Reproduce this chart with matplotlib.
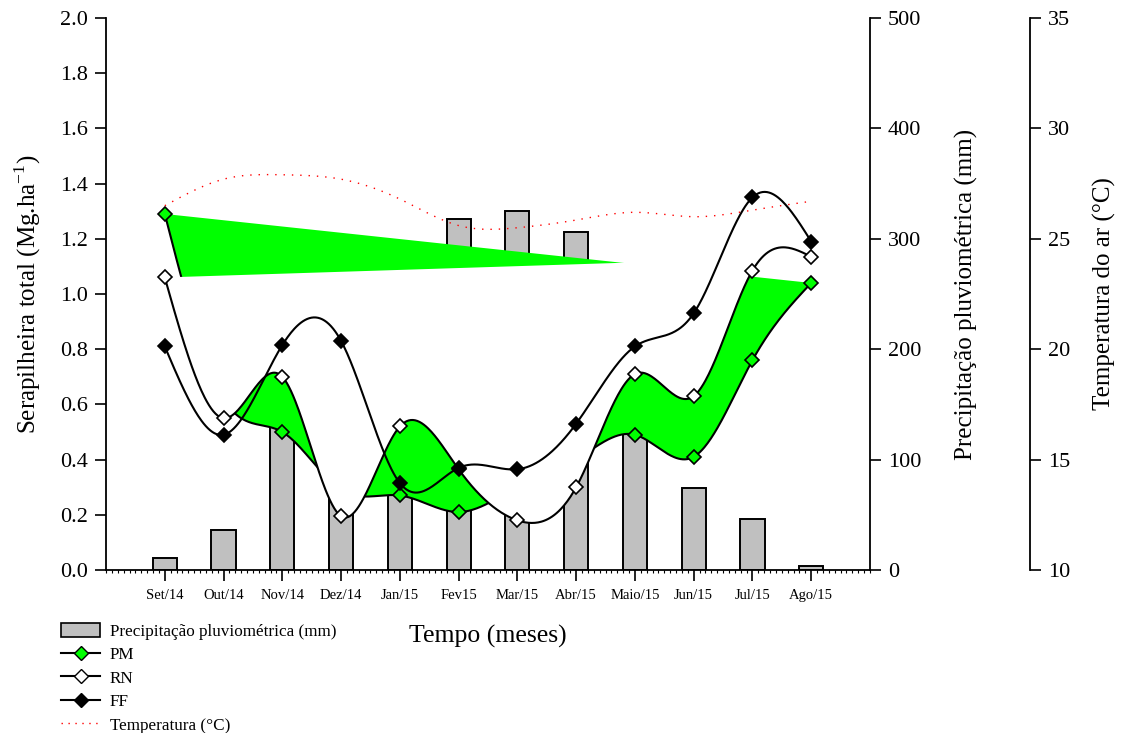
import numpy as np
import matplotlib
matplotlib.use("Agg")
import matplotlib.pyplot as plt
from matplotlib.patches import Patch
from matplotlib.lines import Line2D
from matplotlib.ticker import MultipleLocator, FormatStrFormatter

plt.rcParams['font.family'] = ['Liberation Serif', 'DejaVu Serif']
plt.rcParams['mathtext.fontset'] = 'custom'
plt.rcParams['mathtext.rm'] = 'Liberation Serif'

# ---- data -------------------------------------------------------------
months = ['Set/14', 'Out/14', 'Nov/14', 'Dez/14', 'Jan/15', 'Fev15',
          'Mar/15', 'Abr/15', 'Maio/15', 'Jun/15', 'Jul/15', 'Ago/15']
precip = [11, 36, 190, 200, 240, 318, 325, 306, 180, 74, 46, 4]          # mm
pm = [1.29, 0.62, 0.50, 0.29, 0.27, 0.21, 0.30, 0.40, 0.49, 0.41, 0.76, 1.04]
rn = [1.06, 0.55, 0.70, 0.195, 0.52, 0.365, 0.18, 0.30, 0.71, 0.63, 1.085, 1.135]
ff = [0.81, 0.49, 0.815, 0.83, 0.315, 0.37, 0.365, 0.53, 0.81, 0.93, 1.35, 1.19]
temp = [26.5, 27.7, 27.9, 27.7, 26.8, 25.6, 25.5, 25.85, 26.2, 26.0, 26.3, 26.7]  # deg C


def natural_spline(x, y, xs):
    """Natural cubic spline through (x, y), evaluated at xs."""
    x = np.asarray(x, float)
    y = np.asarray(y, float)
    n = len(x)
    h = np.diff(x)
    A = np.zeros((n, n))
    b = np.zeros(n)
    A[0, 0] = A[-1, -1] = 1.0
    for i in range(1, n - 1):
        A[i, i - 1] = h[i - 1]
        A[i, i] = 2 * (h[i - 1] + h[i])
        A[i, i + 1] = h[i]
        b[i] = 6 * ((y[i + 1] - y[i]) / h[i] - (y[i] - y[i - 1]) / h[i - 1])
    M = np.linalg.solve(A, b)
    idx = np.clip(np.searchsorted(x, xs) - 1, 0, n - 2)
    x0, x1 = x[idx], x[idx + 1]
    hh = x1 - x0
    t0, t1 = x1 - xs, xs - x0
    return (M[idx] * t0 ** 3 / (6 * hh) + M[idx + 1] * t1 ** 3 / (6 * hh)
            + (y[idx] / hh - M[idx] * hh / 6) * t0
            + (y[idx + 1] / hh - M[idx + 1] * hh / 6) * t1)


x = np.arange(len(months))
xs = np.linspace(0, len(months) - 1, 600)
pm_s = natural_spline(x, pm, xs)
rn_s = natural_spline(x, rn, xs)
ff_s = natural_spline(x, ff, xs)
temp_s = natural_spline(x, temp, xs)

GREEN = '#00ff00'
BAR = '#c0c0c0'

fig = plt.figure(figsize=(11.22, 7.33), dpi=100)
L, R, B, T = 106 / 1122, 870 / 1122, 1 - 570 / 733, 1 - 18 / 733
ax_p = fig.add_axes([L, B, R - L, T - B])
ax_s = ax_p.twinx()
ax_t = ax_p.twinx()

# ---- precipitation bars (base axes) ----------------------------------
ax_p.bar(x, precip, width=0.41, color=BAR, edgecolor='black', linewidth=1.4, zorder=1)
ax_p.set_ylim(0, 500)
ax_p.set_xlim(-1, 12)
ax_p.yaxis.tick_right()
ax_p.yaxis.set_label_position('right')
ax_p.set_yticks(np.arange(0, 501, 100))
ax_p.set_ylabel('Precipitação pluviométrica (mm)', fontsize=18, labelpad=24)
for s in ('left', 'top'):
    ax_p.spines[s].set_visible(False)
ax_p.spines['right'].set_linewidth(1.3)
ax_p.spines['bottom'].set_linewidth(1.3)
ax_p.set_xticks(x)
ax_p.set_xticklabels(months, fontsize=10.5)
ax_p.xaxis.set_minor_locator(MultipleLocator(0.1))
ax_p.tick_params(axis='x', which='major', direction='out', length=8, width=1.2, pad=6)
ax_p.tick_params(axis='x', which='minor', direction='out', length=2, width=0.8)
ax_p.tick_params(axis='y', direction='out', length=8, width=1.2, labelsize=16, pad=5)
ax_p.set_xlabel('Tempo (meses)', fontsize=18.5, labelpad=16)

# ---- litterfall series ------------------------------------------------
ax_s.set_ylim(0, 2.0)
ax_s.yaxis.tick_left()
ax_s.yaxis.set_label_position('left')
ax_s.set_yticks(np.arange(0, 2.01, 0.2))
ax_s.yaxis.set_major_formatter(FormatStrFormatter('%.1f'))
ax_s.tick_params(axis='y', direction='out', length=8, width=1.2, labelsize=16, pad=5)
ax_s.set_ylabel('Serapilheira total (Mg.ha$^{-1}$)', fontsize=18, labelpad=12)
for s in ('right', 'top', 'bottom'):
    ax_s.spines[s].set_visible(False)
ax_s.spines['left'].set_linewidth(1.3)

# PM area (curve closed by its chord), then RN area in white on top
ax_s.fill(xs, pm_s, color=GREEN, lw=0, zorder=2)
ax_s.plot(xs, pm_s, color='black', lw=1.5, zorder=3)
ax_s.plot(x, pm, ls='none', marker='D', ms=7, mfc=GREEN, mec='black', mew=1.2, zorder=4)
ax_s.fill(xs, rn_s, color='white', lw=0, zorder=5)
ax_s.plot(xs, rn_s, color='black', lw=1.5, zorder=6)
ax_s.plot(x, rn, ls='none', marker='D', ms=7, mfc='white', mec='black', mew=1.2, zorder=7)
ax_s.plot(xs, ff_s, color='black', lw=1.5, zorder=8)
ax_s.plot(x, ff, ls='none', marker='D', ms=7, mfc='black', mec='black', mew=1.2, zorder=9)

# ---- air temperature --------------------------------------------------
ax_t.set_ylim(10, 35)
ax_t.set_yticks(np.arange(10, 36, 5))
ax_t.spines['right'].set_position(('axes', (1030 - 106) / 764))
for s in ('left', 'top', 'bottom'):
    ax_t.spines[s].set_visible(False)
ax_t.spines['right'].set_linewidth(1.3)
ax_t.tick_params(axis='y', direction='out', length=8, width=1.2, labelsize=16, pad=5)
ax_t.set_ylabel('Temperatura do ar (°C)', fontsize=18, labelpad=16)
ax_t.plot(xs, temp_s, color='red', lw=1.0, ls=(0, (1, 5)), zorder=10)

# ---- legend -----------------------------------------------------------
handles = [
    Patch(facecolor=BAR, edgecolor='black', linewidth=1.2),
    Line2D([], [], color='black', lw=1.5, marker='D', ms=7, mfc=GREEN, mec='black'),
    Line2D([], [], color='black', lw=1.5, marker='D', ms=7, mfc='white', mec='black'),
    Line2D([], [], color='black', lw=1.5, marker='D', ms=7, mfc='black', mec='black'),
    Line2D([], [], color='red', lw=1.0, ls=(0, (1, 4))),
]
labels = ['Precipitação pluviométrica (mm)', 'PM', 'RN', 'FF', 'Temperatura (°C)']
fig.legend(handles, labels, loc='upper left', bbox_to_anchor=(61 / 1122, 1 - 623 / 733),
           frameon=False, fontsize=12.3, handlelength=2.3, handleheight=0.9,
           labelspacing=0.38, handletextpad=0.55, borderaxespad=0, borderpad=0)

fig.savefig('out.png', dpi=100)
